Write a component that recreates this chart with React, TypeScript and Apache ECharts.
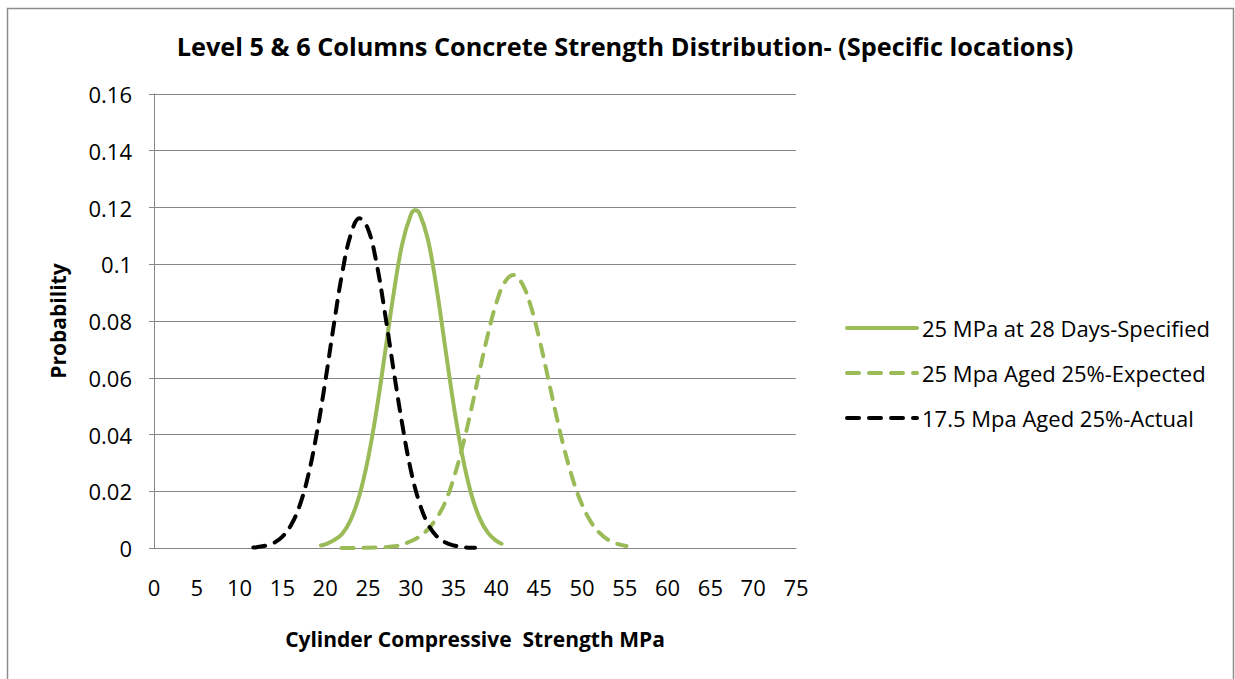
import React, { useEffect, useRef } from "react";
import * as echarts from "echarts";

const title = "Level 5 & 6 Columns Concrete Strength Distribution- (Specific locations)";
const xAxisName = "Cylinder Compressive  Strength MPa";
const yAxisName = "Probability";
const seriesNames = [
  "25 MPa at 28 Days-Specified",
  "25 Mpa Aged 25%-Expected",
  "17.5 Mpa Aged 25%-Actual",
];

const specifiedX = [19.5, 20, 21, 22, 23, 24, 25, 26, 27, 28, 29, 30, 30.5, 31, 32, 33, 34, 35, 36, 37, 38, 39, 40, 40.6];
const specifiedY = [0.0009, 0.0013, 0.0027, 0.005, 0.0101, 0.0186, 0.0314, 0.0486, 0.069, 0.0898, 0.1072, 0.1174, 0.119, 0.118, 0.1087, 0.0918, 0.0711, 0.0505, 0.0329, 0.0197, 0.0108, 0.0054, 0.0025, 0.0015];

const expectedX = [21.9, 23, 25, 27, 28, 29, 30, 31, 32, 33, 34, 35, 36, 37, 38, 39, 40, 41, 42, 43, 44, 45, 46, 47, 48, 49, 50, 51, 52, 53, 54, 55, 55.2];
const expectedY = [0.0, 0.0, 0.0001, 0.0003, 0.0006, 0.0012, 0.0024, 0.004, 0.0066, 0.0105, 0.016, 0.0245, 0.0353, 0.048, 0.0618, 0.0752, 0.0864, 0.0938, 0.0962, 0.0932, 0.0854, 0.0739, 0.0604, 0.0467, 0.0341, 0.0235, 0.0153, 0.0094, 0.0055, 0.003, 0.0016, 0.0008, 0.0007];

const actualX = [11.6, 12, 13, 14, 15, 16, 17, 18, 19, 20, 21, 22, 23, 24, 25, 26, 27, 28, 29, 30, 31, 32, 33, 34, 35, 36, 37, 37.5];
const actualY = [0.0002, 0.0003, 0.0008, 0.0018, 0.004, 0.008, 0.0148, 0.0254, 0.0402, 0.0585, 0.0785, 0.0971, 0.1106, 0.1162, 0.1124, 0.1003, 0.0824, 0.0625, 0.0436, 0.0275, 0.016, 0.0085, 0.0042, 0.002, 0.0009, 0.0004, 0.0001, 0.0001];

const xMin = 0;
const xMax = 75;
const xStep = 5;
const yMin = 0;
const yMax = 0.16;
const yStep = 0.02;

const green = "#9BBB59";
const black = "#000000";
const gridColor = "#868686";
const FONT = "Open Sans";

function pairs(xs: number[], ys: number[]) {
  return xs.map((x, i) => [x, ys[i]]);
}

export default function App() {
  const ref = useRef<HTMLDivElement>(null);
  useEffect(() => {
    if (!ref.current) return;
    const chart = echarts.init(ref.current, null, { renderer: "svg" });
    const dash = [12, 10];
    chart.setOption({
      animation: false,
      backgroundColor: "#ffffff",
      title: {
        text: title,
        left: 620,
        top: 28,
        textAlign: "center",
        textStyle: { fontFamily: FONT, fontWeight: "bold", fontSize: 25.3, color: "#000" },
      },
      legend: {
        orient: "vertical",
        left: 840,
        top: 312,
        itemWidth: 70,
        itemHeight: 20,
        itemGap: 23,
        itemStyle: { opacity: 0, borderWidth: 0 },
        lineStyle: { width: 4 },
        textStyle: { fontFamily: FONT, fontSize: 22, color: "#000", padding: [0, 0, 0, 0] },
        data: seriesNames,
      },
      grid: { left: 154, right: 439, top: 94, bottom: 131 },
      xAxis: {
        type: "value",
        min: xMin,
        max: xMax,
        interval: xStep,
        name: xAxisName,
        nameLocation: "middle",
        nameGap: 80,
        nameTextStyle: { fontFamily: FONT, fontWeight: "bold", fontSize: 21, color: "#000" },
        axisLine: { show: true, lineStyle: { color: gridColor, width: 1 } },
        axisTick: { show: false },
        axisLabel: { margin: 28, fontFamily: FONT, fontSize: 22, color: "#000" },
        splitLine: { show: false },
      },
      yAxis: {
        type: "value",
        min: yMin,
        max: yMax,
        interval: yStep,
        name: yAxisName,
        nameLocation: "middle",
        nameGap: 86,
        nameTextStyle: { fontFamily: FONT, fontWeight: "bold", fontSize: 21, color: "#000" },
        axisLine: { show: true, lineStyle: { color: gridColor, width: 1 } },
        axisTick: { show: true, inside: false, length: 5, lineStyle: { color: gridColor } },
        axisLabel: {
          margin: 22,
          fontFamily: FONT,
          fontSize: 22,
          color: "#000",
          formatter: (v: number) => String(parseFloat(v.toFixed(2))),
        },
        splitLine: { show: true, lineStyle: { color: gridColor, width: 1 } },
      },
      series: [
        {
          name: seriesNames[0],
          type: "line",
          smooth: 0.4,
          showSymbol: false,
          symbol: "none",
          data: pairs(specifiedX, specifiedY),
          lineStyle: { color: green, width: 4, cap: "round" },
          itemStyle: { color: green },
        },
        {
          name: seriesNames[1],
          type: "line",
          smooth: 0.4,
          showSymbol: false,
          symbol: "none",
          data: pairs(expectedX, expectedY),
          lineStyle: { color: green, width: 4, type: dash, cap: "round" },
          itemStyle: { color: green },
        },
        {
          name: seriesNames[2],
          type: "line",
          smooth: 0.4,
          showSymbol: false,
          symbol: "none",
          data: pairs(actualX, actualY),
          lineStyle: { color: black, width: 4, type: dash, cap: "round" },
          itemStyle: { color: black },
        },
      ],
      graphic: [
        {
          type: "rect",
          shape: { x: 7.5, y: 8.5, width: 1226, height: 700 },
          style: { fill: "none", stroke: "#8c8c8c", lineWidth: 1.5 },
          silent: true,
        },
      ],
    });
    return () => chart.dispose();
  }, []);
  return (
    <div
      ref={ref}
      style={{ position: "fixed", left: 0, top: 0, width: 1235, height: 679 }}
    />
  );
}
